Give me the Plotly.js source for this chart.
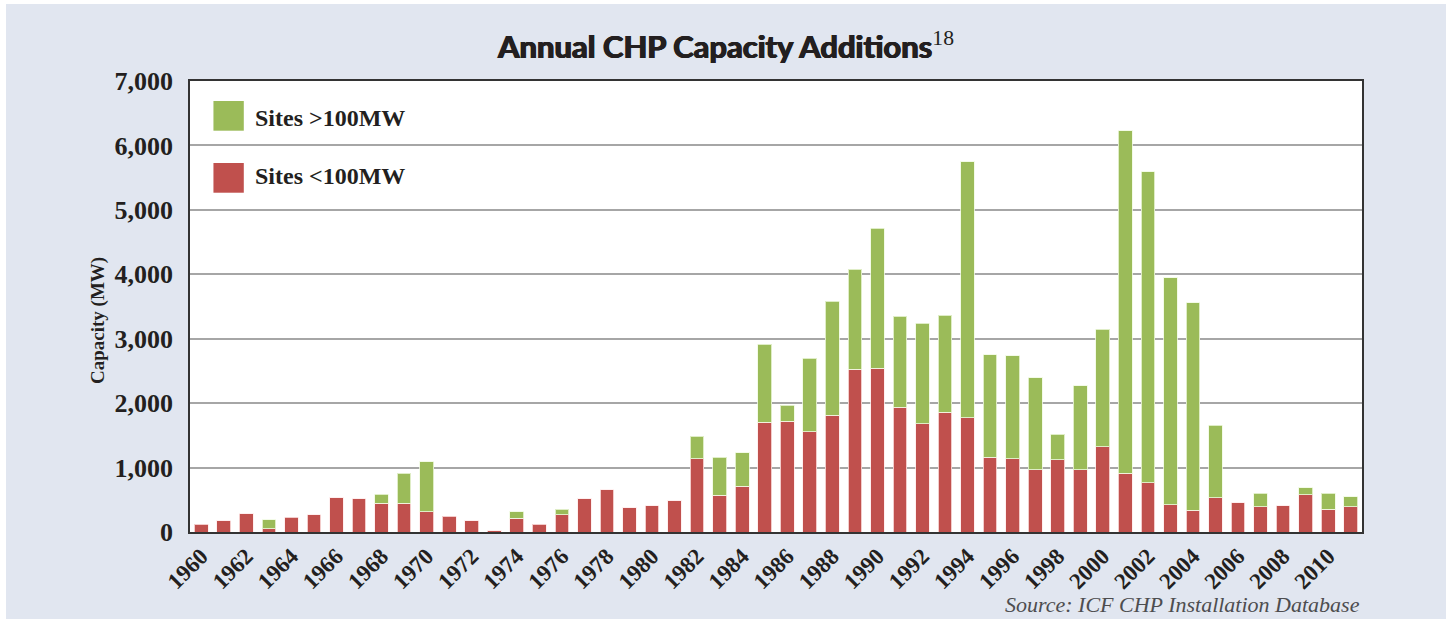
<!DOCTYPE html>
<html>
<head>
<meta charset="utf-8">
<script src="https://cdn.plot.ly/plotly-3.0.1.min.js"></script>
<style>
  html, body { margin: 0; padding: 0; background: #ffffff; }
  #chart { position: absolute; left: 6px; top: 4px; width: 1440px; height: 615px; }
</style>
</head>
<body>
<div id="chart"></div>
<script>
// Years (categories)
const years = [1960,1961,1962,1963,1964,1965,1966,1967,1968,1969,
               1970,1971,1972,1973,1974,1975,1976,1977,1978,1979,
               1980,1981,1982,1983,1984,1985,1986,1987,1988,1989,
               1990,1991,1992,1993,1994,1995,1996,1997,1998,1999,
               2000,2001,2002,2003,2004,2005,2006,2007,2008,2009,
               2010,2011];

// Sites <100MW (MW), bottom of stack
const sitesUnder100 = [118,176,285,51,228,264,533,518,445,445,
                       316,248,176,20,212,118,264,518,658,373,
                       409,482,1140,570,709,1700,1720,1555,1809,2524,
                       2545,1933,1680,1860,1773,1160,1140,964,1124,964,
                       1321,912,767,425,336,533,456,389,404,580,
                       352,389];

// Sites >100MW (MW), top of stack (null = none)
const sitesOver100 = [null,null,null,140,null,null,null,null,140,467,
                      777,null,null,null,104,null,93,null,null,null,
                      null,null,347,590,524,1218,244,1145,1773,1555,
                      2167,1415,1560,1506,3975,1592,1597,1431,394,1306,
                      1825,5318,4821,3525,3225,1125,null,211,null,109,
                      248,160];

// Axis ticks
const yTickVals = [0,1000,2000,3000,4000,5000,6000,7000];
const yTickText = ['0','1,000','2,000','3,000','4,000','5,000','6,000','7,000'];
const xTickVals = [1960,1962,1964,1966,1968,1970,1972,1974,1976,1978,1980,1982,1984,1986,1988,1990,1992,1994,1996,1998,2000,2002,2004,2006,2008,2010];

const RED = '#c0504d';
const GREEN = '#9bbb59';
const serif = '"Liberation Serif", "Times New Roman", serif';

const traces = [
  {
    type: 'bar', name: 'Sites <100MW', x: years, y: sitesUnder100,
    marker: { color: RED, line: { color: 'rgba(255,235,235,0.8)', width: 1 } },
    hoverinfo: 'x+y+name'
  },
  {
    type: 'bar', name: 'Sites >100MW', x: years, y: sitesOver100,
    marker: { color: GREEN, line: { color: 'rgba(240,250,225,0.8)', width: 1 } },
    hoverinfo: 'x+y+name'
  }
];

const layout = {
  width: 1440, height: 615,
  paper_bgcolor: '#e1e6f0',
  plot_bgcolor: '#ffffff',
  margin: { l: 184, r: 84, t: 77, b: 87 },
  barmode: 'stack',
  bargap: 0.39,
  showlegend: false,
  title: {
    text: 'Annual CHP Capacity Additions<sup><span style="font-family:Liberation Serif;font-weight:normal;text-shadow:none">18</span></sup>',
    font: { family: 'Lato, "Open Sans", sans-serif', size: 31, color: '#231f20', weight: 'bold',
            shadow: '0.7px 0 0 #231f20, -0.7px 0 0 #231f20, 0 0.5px 0 #231f20' },
    x: 0.5, xanchor: 'center', y: 0.93, yanchor: 'middle'
  },
  xaxis: {
    range: [1959.5, 2011.5],
    tickmode: 'array', tickvals: xTickVals, ticktext: xTickVals.map(String),
    tickangle: -45,
    tickfont: { family: serif, size: 23, color: '#231f20', weight: 'bold' },
    showgrid: false, zeroline: false,
    showline: true, linecolor: '#333333', linewidth: 1.5, mirror: true,
    ticks: ''
  },
  yaxis: {
    range: [0, 7000],
    tickmode: 'array', tickvals: yTickVals, ticktext: yTickText,
    tickfont: { family: serif, size: 26, color: '#231f20', weight: 'bold' },
    showgrid: true, gridcolor: '#a6a6a6', gridwidth: 1.5,
    zeroline: false,
    showline: true, linecolor: '#333333', linewidth: 1.5, mirror: true,
    ticks: '', ticklabelstandoff: 10
  },
  shapes: [
    { type: 'rect', xref: 'paper', yref: 'paper', x0: 0.0200, x1: 0.0459, y0: 0.8898, y1: 0.9557,
      fillcolor: GREEN, line: { width: 0 } },
    { type: 'rect', xref: 'paper', yref: 'paper', x0: 0.0200, x1: 0.0459, y0: 0.7523, y1: 0.8182,
      fillcolor: RED, line: { width: 0 } }
  ],
  annotations: [
    { text: 'Sites >100MW', xref: 'paper', yref: 'paper', x: 0.054, y: 0.918,
      xanchor: 'left', yanchor: 'middle', showarrow: false,
      font: { family: serif, size: 24, color: '#231f20', weight: 'bold' } },
    { text: 'Sites <100MW', xref: 'paper', yref: 'paper', x: 0.054, y: 0.789,
      xanchor: 'left', yanchor: 'middle', showarrow: false,
      font: { family: serif, size: 24, color: '#231f20', weight: 'bold' } },
    { text: 'Capacity (MW)', xref: 'paper', yref: 'paper', x: -0.0785, y: 0.47,
      xanchor: 'center', yanchor: 'middle', textangle: -90, showarrow: false,
      font: { family: serif, size: 19, color: '#231f20', weight: 'bold' } },
    { text: '<i>Source: ICF CHP Installation Database</i>', xref: 'paper', yref: 'paper', x: 1, y: -0.16,
      xanchor: 'right', yanchor: 'middle', showarrow: false,
      font: { family: serif, size: 22, color: '#4d4d4f' } }
  ]
};

Plotly.newPlot('chart', traces, layout, { displayModeBar: false, staticPlot: false });
</script>
</body>
</html>
